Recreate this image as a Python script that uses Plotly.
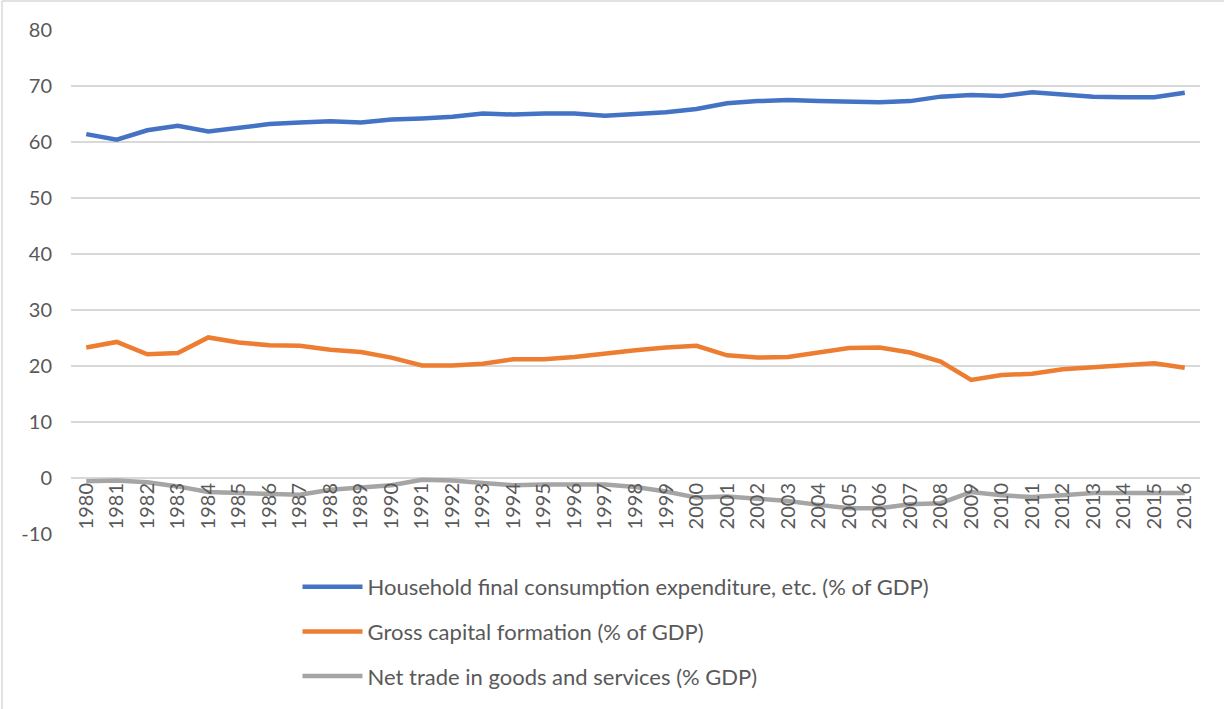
import plotly.graph_objects as go

years = [str(y) for y in range(1980, 2017)]

household = [61.4, 60.4, 62.1, 62.9, 61.9, 62.6, 63.2, 63.5, 63.7, 63.5, 64.0, 64.2, 64.5,
             65.1, 64.9, 65.1, 65.1, 64.7, 65.0, 65.3, 65.9, 66.9, 67.3, 67.5, 67.3, 67.2,
             67.1, 67.3, 68.1, 68.4, 68.2, 68.9, 68.4, 68.1, 68.0, 68.0, 68.8]

capital = [23.3, 24.3, 22.1, 22.3, 25.1, 24.2, 23.7, 23.6, 22.9, 22.5, 21.5, 20.1, 20.1,
           20.4, 21.2, 21.2, 21.6, 22.3, 22.8, 23.3, 23.6, 21.9, 21.5, 21.6, 22.5, 23.2,
           23.3, 22.4, 20.8, 17.5, 18.4, 18.6, 19.4, 19.8, 20.3, 20.5, 19.7]

net_trade = [-0.6, -0.45, -0.75, -1.5, -2.5, -2.6, -2.8, -3.0, -2.1, -1.6, -1.3, -0.3, -0.45,
             -0.9, -1.3, -1.15, -1.2, -1.15, -1.6, -2.4, -3.5, -3.3, -3.7, -4.1, -4.8, -5.4,
             -5.4, -4.7, -4.5, -2.5, -3.1, -3.4, -3.1, -2.7, -2.7, -2.7, -2.7]

series_names = [
    "Household final consumption expenditure, etc. (% of GDP)",
    "Gross capital formation (% of GDP)",
    "Net trade in goods and services (% GDP)",
]
series_values = [household, capital, net_trade]
series_colors = ["#4472C4", "#ED7D31", "#A5A5A5"]

y_ticks = [-10, 0, 10, 20, 30, 40, 50, 60, 70, 80]
y_tick_text = ["-10", "0", "10", "20", "30", "40", "50", "60", "70", "80"]

FONT = "Lato"
TEXT_COLOR = "#595959"
GRID = "#D9D9D9"

fig = go.Figure()
for i, (name, vals, col) in enumerate(zip(series_names, series_values, series_colors)):
    fig.add_trace(go.Scatter(
        x=years, y=vals, name=name, mode="lines",
        line=dict(color=col, width=4.5),
        legendgroup=f"g{i}",
    ))

W, H = 1224, 709
ml, mr, mt, mb = 71, 24, 30, 175
pw, ph = W - ml - mr, H - mt - mb

fig.update_layout(
    width=W, height=H,
    margin=dict(l=ml, r=mr, t=mt, b=mb, autoexpand=False),
    paper_bgcolor="white", plot_bgcolor="white",
    font=dict(family=FONT, size=20, color=TEXT_COLOR),
    showlegend=True,
    legend=dict(
        orientation="v",
        x=(616 - ml) / pw, xanchor="center",
        y=(H - mb - 566) / ph, yanchor="top",
        font=dict(family=FONT, size=22, color=TEXT_COLOR),
        itemwidth=60,
        tracegroupgap=13,
        bgcolor="rgba(0,0,0,0)",
    ),
    xaxis=dict(
        type="category",
        range=[-0.5, len(years) - 0.5],
        anchor="free",
        position=10 / 90,
        tickmode="array",
        tickvals=years,
        ticktext=years,
        tickangle=-90,
        tickfont=dict(family=FONT, size=20, color=TEXT_COLOR),
        showgrid=False,
        showline=False,
        zeroline=False,
        ticks="",
        automargin=False,
    ),
    yaxis=dict(
        range=[-10, 80],
        tickmode="array",
        tickvals=y_ticks,
        ticktext=y_tick_text,
        showgrid=True, gridcolor=GRID, gridwidth=1.5,
        zeroline=True, zerolinecolor=GRID, zerolinewidth=1.5,
        showline=False,
        ticks="",
        ticklabelstandoff=18,
        tickfont=dict(family=FONT, size=20, color=TEXT_COLOR),
        automargin=False,
    ),
    shapes=[
        dict(type="line", xref="paper", yref="paper",
             x0=(2 - ml) / pw, x1=(W - ml) / pw, y0=(H - mb - 1) / ph, y1=(H - mb - 1) / ph,
             line=dict(color=GRID, width=1.5)),
        dict(type="line", xref="paper", yref="paper",
             x0=(2 - ml) / pw, x1=(2 - ml) / pw, y0=(H - mb - 1) / ph, y1=(H - mb - H) / ph,
             line=dict(color=GRID, width=1.5)),
    ],
)

fig.write_html(
    "out.html",
    config={"displayModeBar": False},
    post_script="document.body.style.margin='0';document.body.style.overflow='hidden';",
)
